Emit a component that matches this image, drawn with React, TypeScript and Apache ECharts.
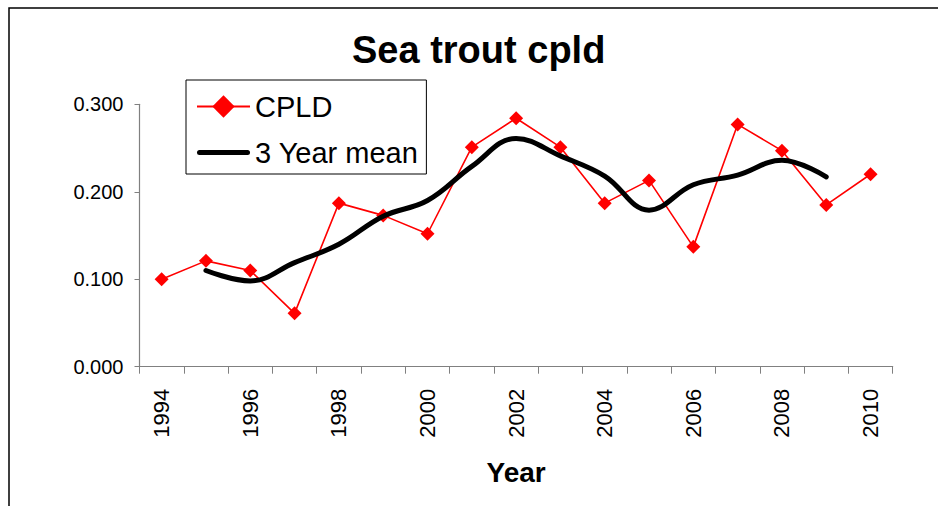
import React, { useEffect, useRef } from "react";
import * as echarts from "echarts";

const years = ["1994","1995","1996","1997","1998","1999","2000","2001","2002","2003","2004","2005","2006","2007","2008","2009","2010"];
const cpld = [0.100,0.121,0.110,0.061,0.187,0.173,0.152,0.251,0.284,0.251,0.187,0.213,0.137,0.277,0.247,0.185,0.220];
const threeYearMean = [null,0.110,0.098,0.119,0.140,0.172,0.190,0.229,0.261,0.241,0.218,0.179,0.208,0.219,0.236,0.217,null];
const titleText = "Sea trout cpld";
const xName = "Year";
const seriesNames = ["CPLD", "3 Year mean"];

const FONT = "'Liberation Sans', Arial, sans-serif";
const THICK_LINE_ICON = "path://M2.5,0 H50.5 A2.5,2.5 0 0 1 50.5,5 H2.5 A2.5,2.5 0 0 1 2.5,0 Z";

export default function App() {
  const ref = useRef<HTMLDivElement>(null);
  useEffect(() => {
    if (!ref.current) return;
    const chart = echarts.init(ref.current, null, { renderer: "svg" });
    chart.setOption({
      animation: false,
      backgroundColor: "#fff",
      textStyle: { fontFamily: FONT },
      title: {
        text: titleText,
        left: 352,
        top: 31,
        padding: 0,
        textStyle: { fontFamily: FONT, fontSize: 38, fontWeight: "bold", color: "#000" },
      },
      graphic: [
        {
          type: "rect",
          shape: { x: 9, y: 8, width: 1000, height: 600 },
          style: { fill: "none", stroke: "#000", lineWidth: 1.5 },
          silent: true,
          z: 100,
        },
      ],
      legend: {
        left: 186,
        top: 80,
        orient: "vertical",
        backgroundColor: "#fff",
        borderColor: "#000",
        borderWidth: 1,
        padding: [12, 8, 7, 10],
        itemGap: 17,
        itemWidth: 53,
        itemHeight: 28,
        symbolKeepAspect: true,
        textStyle: { fontFamily: FONT, fontSize: 29, color: "#000" },
        data: [
          seriesNames[0],
          { name: seriesNames[1], icon: THICK_LINE_ICON, itemStyle: { color: "#000" } },
        ],
      },
      grid: { left: 139.5, right: 45.3, top: 104.3, bottom: 139.3, containLabel: false },
      xAxis: {
        type: "category",
        data: years,
        boundaryGap: true,
        name: xName,
        nameLocation: "middle",
        nameGap: 92,
        nameTextStyle: { fontFamily: FONT, fontSize: 28, fontWeight: "bold", color: "#000" },
        axisLine: { lineStyle: { color: "#808080", width: 1.2 } },
        axisTick: { show: true, interval: 0, length: 7, lineStyle: { color: "#808080" } },
        axisLabel: {
          interval: 1,
          rotate: 90,
          margin: 22,
          fontFamily: FONT,
          fontSize: 22,
          color: "#000",
        },
        splitLine: { show: false },
      },
      yAxis: {
        type: "value",
        min: 0,
        max: 0.3,
        interval: 0.1,
        axisLine: { show: true, lineStyle: { color: "#808080", width: 1.2 } },
        axisTick: { show: true, length: 5, lineStyle: { color: "#808080" } },
        axisLabel: {
          margin: 16,
          fontFamily: FONT,
          fontSize: 20,
          color: "#000",
          formatter: (v: number) => v.toFixed(3),
        },
        splitLine: { show: false },
      },
      series: [
        {
          name: seriesNames[0],
          type: "line",
          data: cpld,
          symbol: "diamond",
          symbolSize: 14,
          itemStyle: { color: "#ff0000" },
          lineStyle: { color: "#ff0000", width: 1.6 },
          z: 2,
        },
        {
          name: seriesNames[1],
          type: "line",
          data: threeYearMean,
          smooth: 0.4,
          symbol: "none",
          connectNulls: false,
          itemStyle: { color: "#000" },
          lineStyle: { color: "#000", width: 5, cap: "round" },
          z: 3,
        },
      ],
    });
    return () => chart.dispose();
  }, []);
  return <div ref={ref} style={{ position: "absolute", left: 0, top: 0, width: 938, height: 506 }} />;
}
